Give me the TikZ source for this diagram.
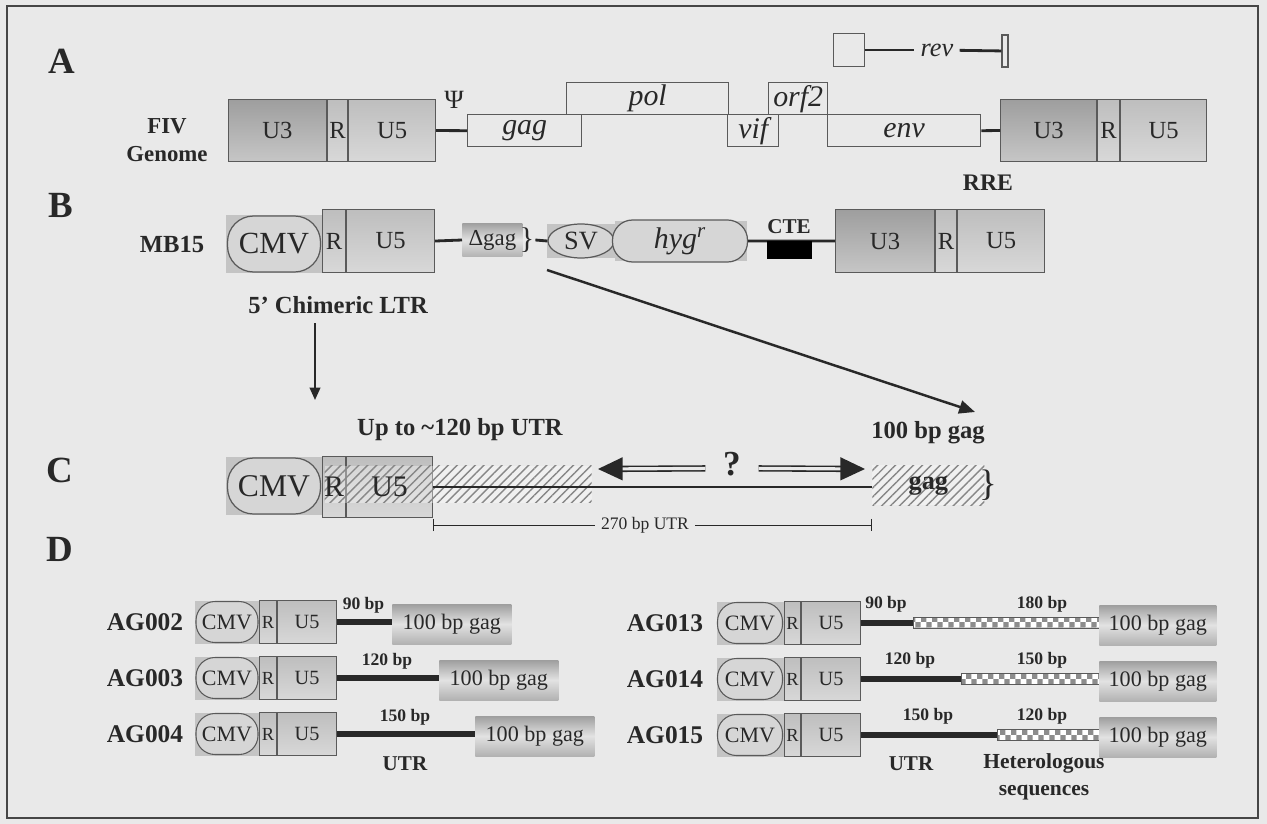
\documentclass[tikz,border=0pt]{standalone}
\usepackage{fontspec}
\setmainfont{Liberation Serif}
\usetikzlibrary{shapes.geometric,arrows.meta,positioning,calc,patterns,patterns.meta}
\definecolor{bg}{RGB}{233,233,233}
\definecolor{frm}{RGB}{70,70,70}
\definecolor{txt}{RGB}{40,40,40}
\definecolor{edge}{RGB}{90,90,90}
\definecolor{u3top}{RGB}{158,158,158}
\definecolor{u3bot}{RGB}{198,198,198}
\definecolor{rtop}{RGB}{190,190,190}
\definecolor{rbot}{RGB}{216,216,216}
\definecolor{cmvbk}{RGB}{196,196,196}
\definecolor{cmvin}{RGB}{214,214,214}
\definecolor{ggtop}{RGB}{158,158,158}
\definecolor{ggmid}{RGB}{226,226,226}
\definecolor{ggbot}{RGB}{178,178,178}
\definecolor{hatchc}{RGB}{135,135,135}
\definecolor{chk}{RGB}{140,140,140}
\newcommand{\fsz}[1]{\fontsize{#1}{#1}\selectfont}
\pgfdeclarepatternformonly{checks}{\pgfpointorigin}{\pgfqpoint{6.4pt}{6.4pt}}{\pgfqpoint{6.4pt}{6.4pt}}{%
  \pgfpathrectangle{\pgfpointorigin}{\pgfqpoint{3.2pt}{3.2pt}}%
  \pgfpathrectangle{\pgfqpoint{3.2pt}{3.2pt}}{\pgfqpoint{3.2pt}{3.2pt}}%
  \pgfusepath{fill}}

\begin{document}
\begin{tikzpicture}[x=0.02cm, y=-0.02cm,
    every node/.append style={text=txt},
    sz/.style 2 args={minimum width={(#1)*0.2mm}, minimum height={(#2)*0.2mm}},
    sect/.style={font=\fsz{21}\bfseries},
    gname/.style={font=\fsz{14}\bfseries},
    u3box/.style={draw=edge, line width=0.6pt, top color=u3top, bottom color=u3bot, inner sep=0pt, anchor=north west, font=\fsz{14}},
    rbox/.style={draw=edge, line width=0.6pt, top color=rtop, bottom color=rbot, inner sep=0pt, anchor=north west, font=\fsz{14}},
    orf/.style={draw=edge, line width=0.8pt, inner sep=0pt, anchor=north west, font=\fsz{17}\itshape},
    cmvbg/.style={fill=cmvbk, inner sep=0pt},
    cmvbig/.style={draw=edge, line width=0.7pt, fill=cmvin, rounded corners=0.52cm, inner sep=0pt, font=\fsz{17.5}},
    cmvsm/.style={draw=edge, line width=0.6pt, fill=cmvin, rounded corners=0.38cm, inner sep=0pt, font=\fsz{12.5}},
    gagbar/.style={top color=ggtop, bottom color=ggbot, middle color=ggmid, inner sep=0pt, anchor=west, font=\fsz{12.6}},
    hatch/.style={inner sep=0pt, anchor=north west, preaction={fill=white, fill opacity=0.35}, pattern={Lines[angle=45,distance=3.6pt,line width=0.8pt]}, pattern color=hatchc},
    chkbar/.style={draw=edge, line width=0.5pt, inner sep=0pt, anchor=west, preaction={fill=white}, pattern=checks, pattern color=chk},
    link/.style={draw=txt, line width=1.6pt},
    utrline/.style={draw=txt, line width=3.2pt},
    bplbl/.style={font=\fsz{10}\bfseries},
    arrthin/.style={draw=txt, line width=1.1pt, -{Triangle[length=7pt,width=6pt]}},
    arrmid/.style={draw=txt, line width=1.4pt, -{Triangle[length=9pt,width=7.5pt]}},
    dblarr/.style={draw=txt, line width=0.9pt, double=bg, double distance=1.8pt, -{Triangle[length=14pt,width=13pt]}},
    dim/.style={draw=txt, line width=0.5pt},
]
\path[use as bounding box, fill=bg] (0,0) rectangle (1267,824);
\draw[draw=frm, line width=1.2pt] (7,6) rectangle (1258,818);

% A: FIV genome
\node[sect] (lblA) at (62,61) {A};
\node[gname, font=\fontsize{13}{16}\selectfont\bfseries, align=center] (fiv) at (167,140) {FIV\\Genome};
\node[u3box, sz={98}{62}] (u3L) at (228,99) {U3};
\node[rbox, sz={20}{62}] (rL) at (u3L.north east) {R};
\node[rbox, sz={87}{62}] (u5L) at (rL.north east) {U5};
\node[font=\fsz{15}] (psi) at (454,100) {Ψ};
\node[orf, sz={114}{32}] (gagA) at (467,114) {\raisebox{-2.5pt}{gag}};
\node[orf, sz={162}{32}] (polA) at (566,82) {pol};
\node[orf, sz={51}{32}] (vifA) at (727,114) {\raisebox{-2.5pt}{vif}};
\node[orf, sz={59}{32}] (orf2A) at (768,82) {orf2};
\node[orf, sz={153}{32}] (envA) at (827,114) {env};
\node[u3box, sz={96}{62}] (u3R) at (1000,99) {U3};
\node[rbox, sz={22}{62}] (rR) at (u3R.north east) {R};
\node[rbox, sz={86}{62}] (u5R) at (rR.north east) {U5};
\draw[link] (u5L.east) -- (gagA.west);
\draw[link] (envA.east) -- (u3R.west);
\node[draw=edge, line width=0.8pt, sz={31}{33}, inner sep=0pt] (revbox) at (849,50) {};
\node[font=\fsz{15}\itshape] (rev) at (937,50) {rev};
\node[draw=edge, line width=0.8pt, sz={6}{32}, inner sep=0pt] (revbar) at (1005,51) {};
\draw[link] (revbox) -- (rev);
\draw[link] (rev) -- (revbar);
\node[gname, font=\fsz{13.5}\bfseries] (rre) at (988,183) {RRE};

% B: MB15 vector
\node[sect] (lblB) at (61,205) {B};
\node[gname] (mb15) at (172,245) {MB15};
\node[cmvbg, sz={96}{58}] (cmvbgB) at (274,244) {};
\node[cmvbig, sz={93}{56}] (cmvB) at (cmvbgB) {CMV};
\node[rbox, sz={23}{63}] (rBl) at (322,209) {R};
\node[rbox, sz={88}{63}] (u5Bl) at (rBl.north east) {U5};
\node[gagbar, sz={60}{34}, font=\fsz{13}] (dgag) at (462,240) {Δgag};
\node[font=\fsz{17}, inner sep=0.5pt] (brB) at (527,240) {\}};
\node[cmvbg, sz={68}{35}] (svbg) at (581,241) {};
\node[ellipse, draw=edge, line width=0.7pt, fill=cmvin, sz={66}{34}, inner sep=0pt, font=\fsz{15}] (sv) at (svbg) {SV};
\node[cmvbg, sz={133}{40}] (hygbg) at (681,241) {};
\node[draw=edge, line width=0.7pt, fill=cmvin, rounded corners=0.4cm, sz={135}{42}, inner sep=0pt, font=\fsz{17}] (hyg) at (680,241) {\textit{hyg}\textsuperscript{\textit{r}}};
\node[u3box, sz={99}{63}] (u3Br) at (835,209) {U3};
\node[rbox, sz={21}{63}] (rBr) at (u3Br.north east) {R};
\node[rbox, sz={87}{63}] (u5Br) at (rBr.north east) {U5};
\draw[link] (u5Bl.east) -- (dgag.west);
\draw[link] (brB.east) -- (sv.west);
\draw[link] (hyg.east) -- (u3Br.west);
\node[fill=black, sz={45}{18}, inner sep=0pt, anchor=north west] (cte) at (767,241) {};
\node[font=\fsz{12}\bfseries] (ctelbl) at (789,227) {CTE};
\node[gname] (chim) at (338,305) {5' Chimeric LTR};
\coordinate (tailC) at (315,323);
\coordinate (tipC) at (315,400);
\draw[arrthin] (tailC) -- (tipC);
\coordinate (gsrc) at (547,270);
\coordinate (gdst) at (975,412);
\draw[arrmid] (gsrc) -- (gdst);

% C: leader region
\node[sect] (lblC) at (60,470) {C};
\node[gname] (upto) at (460,430) {Up to \textasciitilde120 bp UTR};
\node[gname] (gag100) at (928,433) {100 bp gag};
\node[cmvbg, sz={96}{58}] (cmvbgC) at (274,486) {};
\node[cmvbig, sz={93}{56}, font=\fsz{18}] (cmvC) at (cmvbgC) {CMV};
\node[rbox, sz={23}{61}] (rC) at (322,456) {};
\node[rbox, sz={86}{61}] (u5C) at (rC.north east) {};
\node[hatch, sz={267}{37}] (utrC) at (324,465) {};
\node[font=\fsz{17}] (trC) at (rC) {R};
\node[font=\fsz{17}] (tu5C) at (u5C) {U5};
\node[hatch, sz={112}{40}, font=\fsz{15}\bfseries] (gagC) at (872,465) {gag};
\node[font=\fsz{21}, inner sep=0.5pt] (brC) at (988,485) {\}};
\draw[link] (u5C.east) -- (u5C.east -| gagC.west);
\node[font=\fsz{20}\bfseries, inner xsep=10pt] (q) at (732,464) {?};
\coordinate (qL) at (598,469);
\coordinate (qR) at (865,469);
\draw[dblarr] ([yshift=-2.5pt]q.west) -- (qL);
\draw[dblarr] ([yshift=-2.5pt]q.east) -- (qR);
\node[font=\fsz{10}] (t270) at (645,525) {270 bp UTR};
\draw[dim, {Bar[width=7pt]}-] (u5C.east |- t270) -- (t270.west);
\draw[dim, -{Bar[width=7pt]}] (t270.east) -- (gagC.west |- t270);

% D: AG constructs
\node[sect] (lblD) at (60,549) {D};
\foreach \nm/\yc/\le/\bp in {AG002/622/392/90, AG003/678/439/120, AG004/734/475/150}{
  \node[gname, font=\fsz{14.5}\bfseries] (n\nm) at (145,\yc) {\nm};
  \node[cmvbg, sz={64}{43}] (cb\nm) at (227,\yc) {};
  \node[cmvsm, sz={62}{41}] (c\nm) at (cb\nm) {CMV};
  \node[rbox, sz={17}{43}, anchor=west, font=\fsz{10.5}] (r\nm) at (259,\yc) {R};
  \node[rbox, sz={59}{43}, anchor=west, font=\fsz{11.5}] (u\nm) at (r\nm.east) {U5};
  \node[gagbar, sz={119}{40}] (g\nm) at (\le,\yc+2) {100 bp gag};
  \draw[utrline] (u\nm.east) -- (u\nm.east -| g\nm.west);
  \node[bplbl] (b\nm) at ({(335+\le)/2},\yc-17) {\bp\ bp};
}
\foreach \nm/\yc/\le/\bu/\bh in {AG013/623/913/90/180, AG014/679/961/120/150, AG015/735/997/150/120}{
  \node[gname, font=\fsz{14.5}\bfseries] (n\nm) at (665,\yc) {\nm};
  \node[cmvbg, sz={67}{43}] (cb\nm) at (750,\yc) {};
  \node[cmvsm, sz={65}{41}] (c\nm) at (cb\nm) {CMV};
  \node[rbox, sz={16}{43}, anchor=west, font=\fsz{10.5}] (r\nm) at (784,\yc) {R};
  \node[rbox, sz={59}{43}, anchor=west, font=\fsz{11.5}] (u\nm) at (r\nm.east) {U5};
  \node[chkbar, sz={1099-\le}{11}] (h\nm) at (\le,\yc) {};
  \node[gagbar, sz={117}{40}] (g\nm) at (1099,\yc+2) {100 bp gag};
  \draw[utrline] (u\nm.east) -- (h\nm.west);
  \node[bplbl] (bu\nm) at ({(859+\le)/2},\yc-19) {\bu\ bp};
  \node[bplbl] (bh\nm) at (1042,\yc-19) {\bh\ bp};
}
\node[gname, font=\fsz{12}\bfseries] (utrL) at (405,764) {UTR};
\node[gname, font=\fsz{12}\bfseries] (utrR) at (911,764) {UTR};
\node[gname, font=\fontsize{12.2}{15}\selectfont\bfseries, align=center] (het) at (1044,777) {Heterologous\\sequences};
\end{tikzpicture}
\end{document}
